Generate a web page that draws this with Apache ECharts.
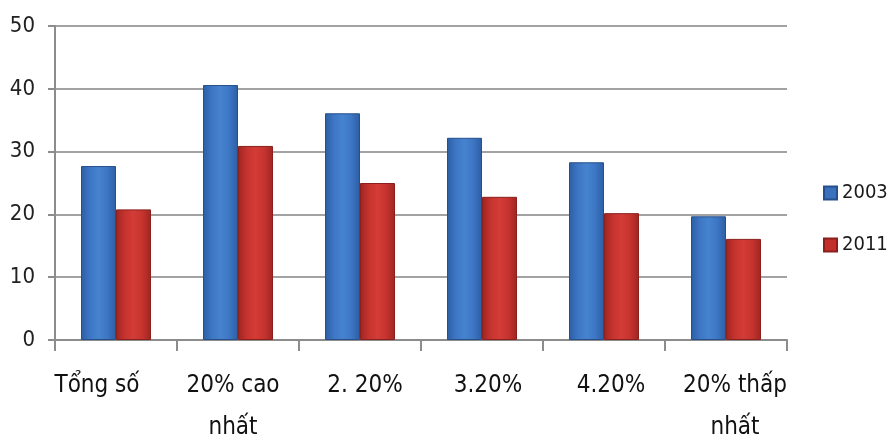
<!DOCTYPE html>
<html>
<head>
<meta charset="utf-8">
<script src="https://cdn.jsdelivr.net/npm/echarts@6/dist/echarts.min.js"></script>
<style>
  html, body { margin: 0; padding: 0; background: #fff; }
  #chart { width: 889px; height: 435px; }
</style>
</head>
<body>
<div id="chart"></div>
<script>
// Income groups and values per survey year
const categories = ['Tổng số', '20% cao\nnhất', '2. 20%', '3.20%', '4.20%', '20% thấp\nnhất'];
const seriesNames = ['2003', '2011'];
const values2003 = [27.7, 40.6, 36.1, 32.2, 28.3, 19.7];
const values2011 = [20.8, 30.9, 25.0, 22.8, 20.2, 16.1];
const yTicks = [0, 10, 20, 30, 40, 50];

const FONT = '"DejaVu Sans Condensed", "Liberation Sans Narrow", sans-serif';

// horizontal nudge (px) for each category label
const labelNudge = [-19, -5, 5, 6, 7, 9];

function barGradient(edge, mid, light) {
  return {
    type: 'linear', x: 0, y: 0, x2: 1, y2: 0,
    colorStops: [
      { offset: 0, color: edge },
      { offset: 0.25, color: mid },
      { offset: 0.5, color: light },
      { offset: 0.75, color: mid },
      { offset: 1, color: edge }
    ]
  };
}

const blueFill = barGradient('#2c5ea3', '#3d76c4', '#4683cf');
const redFill = barGradient('#9e2522', '#c6332f', '#d33c37');

const axisData = categories.map((c, i) => {
  const d = labelNudge[i];
  return {
    value: c,
    textStyle: { padding: d >= 0 ? [0, 0, 0, 2 * d] : [0, -2 * d, 0, 0] }
  };
});

const chart = echarts.init(document.getElementById('chart'), null, { renderer: 'canvas' });

chart.setOption({
  animation: false,
  backgroundColor: '#ffffff',
  grid: {
    left: 55, right: 102, top: 26, bottom: 95,
    containLabel: false, outerBoundsMode: 'none'
  },
  legend: {
    orient: 'vertical',
    left: 818,
    top: 178,
    itemWidth: 13,
    itemHeight: 13,
    itemGap: 32,
    icon: 'rect',
    textStyle: { fontFamily: FONT, fontSize: 20, color: '#1a1a1a' },
    data: [
      { name: seriesNames[0], itemStyle: { color: '#3a70bd' } },
      { name: seriesNames[1], itemStyle: { color: '#c3302c' } }
    ]
  },
  xAxis: {
    type: 'category',
    data: axisData,
    boundaryGap: true,
    axisLine: { lineStyle: { color: '#8c8c8c', width: 2 } },
    axisTick: { show: true, length: 11, lineStyle: { color: '#8c8c8c', width: 2 } },
    axisLabel: {
      fontFamily: FONT, fontSize: 24, color: '#111', margin: 25,
      lineHeight: 42, interval: 0
    }
  },
  yAxis: {
    type: 'value',
    min: 0, max: 50, interval: 10,
    axisLine: { show: true, lineStyle: { color: '#8c8c8c', width: 2 } },
    axisTick: { show: true, length: 7, lineStyle: { color: '#8c8c8c', width: 2 } },
    splitLine: { show: true, lineStyle: { color: '#a3a3a3', width: 2 } },
    axisLabel: {
      fontFamily: FONT, fontSize: 22, color: '#222', margin: 20,
      formatter: v => (yTicks.includes(v) ? String(v) : '')
    }
  },
  series: [
    {
      name: seriesNames[0], type: 'bar', data: values2003,
      barWidth: 35, barGap: '0%',
      itemStyle: { color: blueFill, borderColor: '#25508c', borderWidth: 1 }
    },
    {
      name: seriesNames[1], type: 'bar', data: values2011,
      barWidth: 35, barGap: '0%',
      itemStyle: { color: redFill, borderColor: '#8a1f1c', borderWidth: 1 }
    }
  ]
});
</script>
</body>
</html>
